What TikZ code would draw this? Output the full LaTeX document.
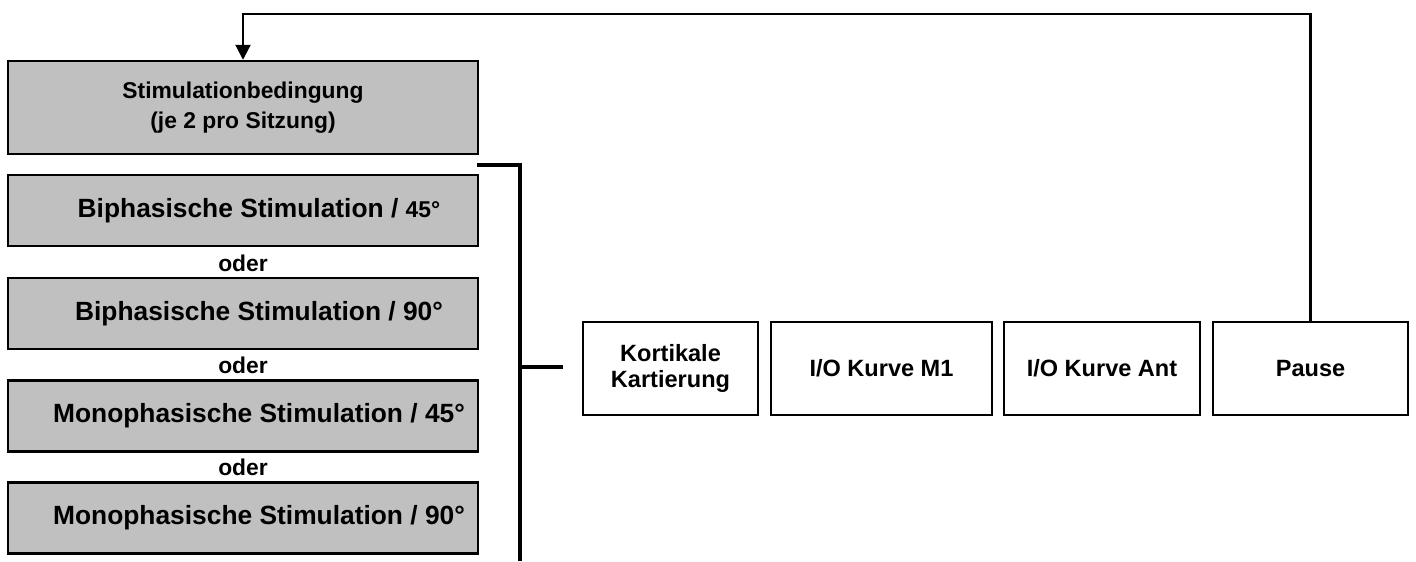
\documentclass[tikz,border=0pt]{standalone}
\usepackage{fontspec}
\setmainfont{Liberation Sans}
\usepackage{xcolor}
\usepackage{tikz}
\usetikzlibrary{arrows.meta}
\definecolor{boxgray}{RGB}{192,192,192}

\begin{document}
\begin{tikzpicture}[x=0.02cm, y=-0.02cm, thick,
  grau/.style={draw, line width=1.4pt, fill=boxgray, minimum width=9.4cm, minimum height=1.42cm, inner sep=0pt, align=center, font=\bfseries\fontsize{15}{18}\selectfont},
  weiss/.style={draw, line width=1.4pt, minimum height=1.86cm, inner sep=0pt, align=center, font=\bfseries\fontsize{13.4}{14.5}\selectfont},
  oder/.style={inner sep=0pt, font=\bfseries\fontsize{13}{15}\selectfont}]
\useasboundingbox (0,0) rectangle (1416,561);
% Bedingungen
\node[grau, minimum height=1.86cm, font=\bfseries\fontsize{13}{17}\selectfont] (stim) at (243,107.5) {Stimulationbedingung\\(je 2 pro Sitzung)};
\node[grau] (bi45) at (243,210.5) {\hspace*{0.64cm}Biphasische Stimulation / {\fontsize{13}{15}\selectfont 45°}};
\node[oder] (oderA) at (243,263) {oder};
\node[grau] (bi90) at (243,313.5) {\hspace*{0.64cm}Biphasische Stimulation / 90°};
\node[oder] (oderB) at (243,365.5) {oder};
\node[grau] (mono45) at (243,416) {\hspace*{0.64cm}Monophasische Stimulation / 45°};
\node[oder] (oderC) at (243,467) {oder};
\node[grau] (mono90) at (243,518) {\hspace*{0.64cm}Monophasische Stimulation / 90°};
% Klammer
\coordinate (klA) at (477,165);
\coordinate (klB) at (520,165);
\coordinate (klC) at (520,561);
\coordinate (klM) at (520,367);
\coordinate (klS) at (563,367);
\draw[line width=1.8pt] (klA) -- (klB) -- (klC);
\draw[line width=1.8pt] (klM) -- (klS);
% Ablauf
\node[weiss, minimum width=3.5cm] (kort) at (670.5,368.5) {Kortikale\\Kartierung};
\node[weiss, minimum width=4.42cm] (ioM) at (881.5,368.5) {I/O Kurve M1};
\node[weiss, minimum width=3.92cm] (ioA) at (1102,368.5) {I/O Kurve Ant};
\node[weiss, minimum width=3.9cm] (pause) at (1310.5,368.5) {Pause};
% Rueckfuehrung
\coordinate (oben) at (1311,14);
\draw[line width=1.2pt, -{Triangle[length=0.3cm, width=0.3cm]}] (pause.north) -- (pause.north |- oben) -| (stim.north);
\end{tikzpicture}
\end{document}
